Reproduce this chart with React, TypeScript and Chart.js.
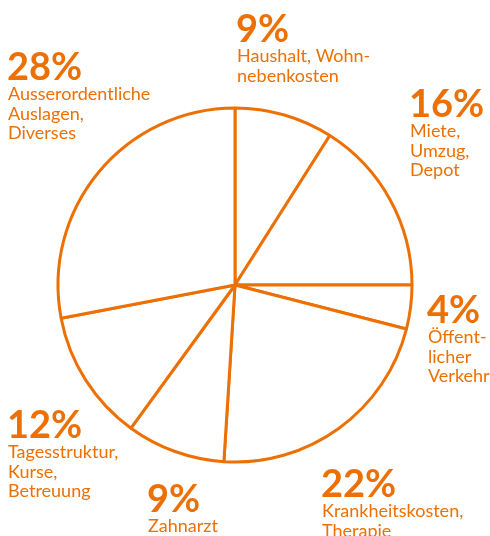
import React, { useEffect, useRef } from "react";
import { Chart, registerables } from "chart.js";

Chart.register(...registerables);

const categories: string[][] = [
  ["Haushalt, Wohn-", "nebenkosten"],
  ["Miete,", "Umzug,", "Depot"],
  ["Öffent-", "licher", "Verkehr"],
  ["Krankheitskosten,", "Therapie"],
  ["Zahnarzt"],
  ["Tagesstruktur,", "Kurse,", "Betreuung"],
  ["Ausserordentliche", "Auslagen,", "Diverses"],
];
const shares: number[] = [9, 16, 4, 22, 9, 12, 28];

// label anchor (left x, top of big number) for each slice
const labelPos: [number, number][] = [
  [236, 12],
  [409, 87],
  [427, 293],
  [321, 467],
  [147, 482],
  [7, 408],
  [7, 50],
];

const ORANGE = "#ED7004";
const FONT = "Lato, 'Noto Sans', sans-serif";

const labelPlugin = {
  id: "outsideLabels",
  afterDraw(chart: any) {
    const ctx = chart.ctx;
    ctx.save();
    ctx.fillStyle = ORANGE;
    ctx.textBaseline = "alphabetic";
    ctx.textAlign = "left";
    shares.forEach((v, i) => {
      const [x, y] = labelPos[i];
      ctx.font = `bold 38px ${FONT}`;
      ctx.fillText(`${v}%`, x, y + 29.5);
      ctx.font = `18px ${FONT}`;
      categories[i].forEach((line, j) => {
        ctx.fillText(line, x + 1, y + 50 + j * 19.5);
      });
    });
    ctx.restore();
  },
};

export default function App() {
  const ref = useRef<HTMLCanvasElement>(null);
  useEffect(() => {
    document.body.style.margin = "0";
    const chart = new Chart(ref.current!, {
      type: "pie",
      data: {
        labels: categories.map((c) => c.join(" ")),
        datasets: [
          {
            data: shares,
            backgroundColor: "#ffffff",
            borderColor: ORANGE,
            borderWidth: 3,
          },
        ],
      },
      options: {
        responsive: false,
        animation: false,
        events: [],
        layout: { padding: { left: 56.5, right: 76.5, top: 106.5, bottom: 72.5 } },
        plugins: {
          legend: { display: false },
          tooltip: { enabled: false },
        },
      },
      plugins: [labelPlugin],
    });
    return () => chart.destroy();
  }, []);
  return (
    <div style={{ width: 490, height: 536 }}>
      <canvas ref={ref} width={490} height={536} style={{ display: "block" }} />
    </div>
  );
}
